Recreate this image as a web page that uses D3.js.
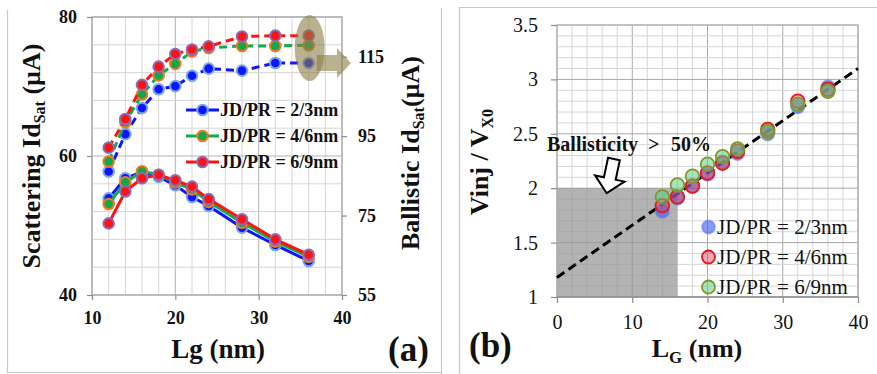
<!DOCTYPE html>
<html><head><meta charset="utf-8">
<script src="https://cdn.jsdelivr.net/npm/d3@7"></script>
<style>
body{margin:0;background:#fff}
svg{display:block}
svg text{font-family:"Liberation Serif","Times New Roman",Times,serif !important}
</style></head><body>
<svg id="chart" width="877" height="374"></svg>
<script>
// ---- Panel (a): saturation current vs gate length ----
const lg = [12, 14, 16, 18, 20, 22, 24, 28, 32, 36];
const seriesNames = ["JD/PR = 2/3nm", "JD/PR = 4/6nm", "JD/PR = 6/9nm"];
// ballistic Id,sat (right axis, µA) — dashed curves
const ballistic23 = [86.1, 95.5, 102.1, 106.8, 107.6, 110.2, 112.0, 111.5, 113.4, 113.4];
const ballistic46 = [88.6, 98.5, 105.5, 110.3, 113.2, 116.3, 117.2, 117.7, 117.7, 117.9];
const ballistic69 = [92.1, 99.3, 107.9, 112.5, 115.7, 116.8, 117.6, 120.1, 120.3, 120.3];
// scattering Id,sat (left axis, µA) — solid curves
const scatter23 = [53.9, 56.8, 57.7, 57.0, 55.8, 54.1, 52.8, 49.7, 47.2, 44.9];
const scatter46 = [53.1, 56.2, 57.8, 57.3, 56.2, 55.2, 53.4, 50.4, 47.7, 45.5];
const scatter69 = [50.3, 54.9, 56.8, 57.3, 56.5, 55.6, 53.8, 50.9, 48.0, 45.8];
const ticksLgA = [10, 20, 30, 40];
const ticksLeftA = [40, 60, 80];
const ticksRightA = [55, 75, 95, 115];

// ---- Panel (b): injection velocity ratio vs gate length ----
const lgB = [14, 16, 18, 20, 22, 24, 28, 32, 36];
const vinj23 = [1.79, 1.91, 2.02, 2.13, 2.24, 2.32, 2.50, 2.75, 2.93];
const vinj46 = [1.84, 1.92, 2.02, 2.14, 2.23, 2.34, 2.54, 2.80, 2.91];
const vinj69 = [1.92, 2.03, 2.11, 2.22, 2.29, 2.36, 2.52, 2.77, 2.89];
const fitLine = [[0, 1.18], [40, 3.10]];
const ballisticRegion = {lgMax: 16, vMin: 1, vMax: 2};
const ticksLgB = [0, 10, 20, 30, 40];
const ticksVB = [1, 1.5, 2, 2.5, 3, 3.5];

const svg = d3.select("#chart");

// frames around the two panels
const frame = svg.append("g").attr("stroke", "#c8c8c8").attr("stroke-width", 1.2).attr("fill", "none");
frame.append("path").attr("d", "M7.5,10 V372.5 H441.5 M441.5,8 V374 M459.5,374 V7.5 H877");

// ================= Panel (a) =================
const xA = d3.scaleLinear([10, 40], [92, 342]);
const yL = d3.scaleLinear([40, 80], [295, 17]);
const yR = d3.scaleLinear([55, 125], [295, 17]);

const gA = svg.append("g");
// grid
const gridA = gA.append("g");
d3.range(10, 41, 2).forEach(v => {
  gridA.append("line").attr("x1", xA(v)).attr("x2", xA(v)).attr("y1", yL(40)).attr("y2", yL(80))
    .attr("stroke", v % 10 === 0 ? "#b4b4b4" : "#d6d6d6").attr("stroke-width", 1);
});
d3.range(40, 81, 4).forEach(v => {
  gridA.append("line").attr("x1", xA(10)).attr("x2", xA(40)).attr("y1", yL(v)).attr("y2", yL(v))
    .attr("stroke", v % 20 === 0 ? "#b4b4b4" : "#d6d6d6").attr("stroke-width", 1);
});
gA.append("rect").attr("x", xA(10)).attr("y", yL(80)).attr("width", xA(40) - xA(10)).attr("height", yL(40) - yL(80))
  .attr("fill", "none").attr("stroke", "#a8a8a8").attr("stroke-width", 1.2);

function styleAxis(g, size, weight) {
  g.attr("font-family", null);
  g.select(".domain").remove();
  g.selectAll(".tick line").attr("stroke", "#8c8c8c").attr("stroke-width", 1.2);
  g.selectAll(".tick text").attr("font-size", size).attr("font-weight", weight).attr("fill", "#111");
}
gA.append("g").attr("transform", `translate(0,${yL(40)})`)
  .call(d3.axisBottom(xA).tickValues(ticksLgA).tickSize(5).tickPadding(11).tickFormat(d3.format("d")))
  .call(g => styleAxis(g, 18, "bold"));
gA.append("g").attr("transform", `translate(${xA(10)},0)`)
  .call(d3.axisLeft(yL).tickValues(ticksLeftA).tickSize(5).tickPadding(10).tickFormat(d3.format("d")))
  .call(g => styleAxis(g, 18, "bold"));
gA.append("g").attr("transform", `translate(${xA(40)},0)`)
  .call(d3.axisRight(yR).tickValues(ticksRightA).tickSize(5).tickPadding(11).tickFormat(d3.format("d")))
  .call(g => styleAxis(g, 18, "bold"));

const styleA = [
  {line: "#0b16ff", fill: "#0b16ff", stroke: "#7aa6e2"},
  {line: "#11ad4c", fill: "#12a84a", stroke: "#f07a22"},
  {line: "#ff1212", fill: "#ff1212", stroke: "#8a6cb8"}
];
const ballisticSets = [ballistic23, ballistic46, ballistic69];
const scatterSets = [scatter23, scatter46, scatter69];

function drawSeries(g, values, yScale, st, dashed) {
  const pts = lg.map((x, i) => [xA(x), yScale(values[i])]);
  g.append("path").attr("d", d3.line()(pts)).attr("fill", "none")
    .attr("stroke", st.line).attr("stroke-width", 3)
    .attr("stroke-dasharray", dashed ? "8,5" : null);
  g.selectAll(null).data(pts).join("circle")
    .attr("cx", d => d[0]).attr("cy", d => d[1]).attr("r", 5.3)
    .attr("fill", st.fill).attr("stroke", st.stroke).attr("stroke-width", 2);
}
const marksA = gA.append("g");
[0, 1, 2].forEach(i => drawSeries(marksA, scatterSets[i], yL, styleA[i], false));
[0, 1, 2].forEach(i => drawSeries(marksA, ballisticSets[i], yR, styleA[i], true));

// highlight of the longest-gate ballistic points and arrow towards the right axis
const lastIdx = lg.length - 1;
const hiY = d3.mean(ballisticSets, s => yR(s[lastIdx]));
const hiX = xA(lg[lastIdx]) + 1;
const khaki = "rgb(140,125,70)";
gA.append("ellipse").attr("cx", hiX).attr("cy", hiY).attr("rx", 15).attr("ry", 33)
  .attr("fill", khaki).attr("opacity", 0.6);
const ay = hiY + 15, ax0 = hiX + 7, ax1 = xA(40) - 5, tip = xA(40) + 9;
gA.append("path")
  .attr("d", `M${ax0},${ay - 8} H${ax1} V${ay - 15} L${tip},${ay} L${ax1},${ay + 15} V${ay + 8} H${ax0} Z`)
  .attr("fill", khaki).attr("opacity", 0.6);

// legend (a)
const legA = gA.append("g");
seriesNames.forEach((name, i) => {
  const y = 110 + i * 26;
  legA.append("line").attr("x1", 186).attr("x2", 219).attr("y1", y).attr("y2", y)
    .attr("stroke", styleA[i].line).attr("stroke-width", 3);
  legA.append("circle").attr("cx", 202.5).attr("cy", y).attr("r", 5.3)
    .attr("fill", styleA[i].fill).attr("stroke", styleA[i].stroke).attr("stroke-width", 2);
  legA.append("text").attr("x", 220).attr("y", y + 6)
    .attr("font-size", 18).attr("font-weight", "bold").attr("fill", "#111").text(name);
});

// axis titles (a)
const t1 = gA.append("text").attr("transform", "translate(40,156) rotate(-90)").attr("text-anchor", "middle")
  .attr("font-size", 26).attr("font-weight", "bold").attr("fill", "#111");
t1.append("tspan").text("Scattering Id");
t1.append("tspan").attr("font-size", 16).attr("dy", 5).text("Sat");
t1.append("tspan").attr("dy", -5).text(" (µA)");
const t2 = gA.append("text").attr("transform", "translate(419,153) rotate(-90)").attr("text-anchor", "middle")
  .attr("font-size", 26).attr("font-weight", "bold").attr("fill", "#111");
t2.append("tspan").text("Ballistic Id");
t2.append("tspan").attr("font-size", 16).attr("dy", 5).text("Sat");
t2.append("tspan").attr("dy", -5).text("(µA)");
gA.append("text").attr("x", 218).attr("y", 358).attr("text-anchor", "middle")
  .attr("font-size", 27).attr("font-weight", "bold").attr("fill", "#111").text("Lg (nm)");
gA.append("text").attr("x", 388).attr("y", 361)
  .attr("font-size", 35).attr("font-weight", "bold").attr("fill", "#111").text("(a)");

// ================= Panel (b) =================
const xB = d3.scaleLinear([0, 40], [557, 858]);
const yB = d3.scaleLinear([1, 3.5], [297, 25]);
const gB = svg.append("g");
const gridB = gB.append("g");
d3.range(0, 41, 2).forEach(v => {
  gridB.append("line").attr("x1", xB(v)).attr("x2", xB(v)).attr("y1", yB(1)).attr("y2", yB(3.5))
    .attr("stroke", v % 10 === 0 ? "#a8a8a8" : "#d6d6d6").attr("stroke-width", 1);
});
d3.range(0, 26).forEach(k => {
  const v = 1 + k * 0.1;
  gridB.append("line").attr("x1", xB(0)).attr("x2", xB(40)).attr("y1", yB(v)).attr("y2", yB(v))
    .attr("stroke", k % 5 === 0 ? "#a8a8a8" : "#d6d6d6").attr("stroke-width", 1);
});
gB.append("rect").attr("x", xB(0)).attr("y", yB(ballisticRegion.vMax))
  .attr("width", xB(ballisticRegion.lgMax) - xB(0)).attr("height", yB(ballisticRegion.vMin) - yB(ballisticRegion.vMax))
  .attr("fill", "rgb(150,150,150)").attr("opacity", 0.72);
gB.append("path").attr("d", `M${xB(0)},${yB(1)} V${yB(3.5)} H${xB(40)} V${yB(1)}`)
  .attr("fill", "none").attr("stroke", "#b0b0b0").attr("stroke-width", 1.2);
gB.append("line").attr("x1", xB(0)).attr("x2", xB(40)).attr("y1", yB(1)).attr("y2", yB(1))
  .attr("stroke", "#8c8c8c").attr("stroke-width", 1.5);

gB.append("g").attr("transform", `translate(0,${yB(1)})`)
  .call(d3.axisBottom(xB).tickValues(ticksLgB).tickSize(6).tickPadding(12).tickFormat(d3.format("d")))
  .call(g => styleAxis(g, 20, "normal"));
gB.append("g").attr("transform", `translate(${xB(0)},0)`)
  .call(d3.axisLeft(yB).tickValues(ticksVB).tickSize(6).tickPadding(13).tickFormat(d3.format("")))
  .call(g => styleAxis(g, 20, "normal"));

// linear trend
gB.append("path").attr("d", d3.line()(fitLine.map(d => [xB(d[0]), yB(d[1])])))
  .attr("fill", "none").attr("stroke", "#000").attr("stroke-width", 3).attr("stroke-dasharray", "9,5");

const styleB = [
  {fill: "rgba(70,90,235,0.62)", stroke: "rgba(90,120,245,0.55)"},
  {fill: "rgba(225,60,95,0.45)", stroke: "#e51818"},
  {fill: "rgba(95,205,125,0.55)", stroke: "#7d9a2c"}
];
const vinjSets = [vinj23, vinj46, vinj69];
vinjSets.forEach((vals, i) => {
  gB.append("g").selectAll("circle").data(lgB).join("circle")
    .attr("cx", d => xB(d)).attr("cy", (d, j) => yB(vals[j])).attr("r", 6.8)
    .attr("fill", styleB[i].fill).attr("stroke", styleB[i].stroke).attr("stroke-width", 1.8);
});

// legend (b)
seriesNames.forEach((name, i) => {
  const y = 227 + i * 30;
  gB.append("circle").attr("cx", 708.5).attr("cy", y).attr("r", 6.5)
    .attr("fill", styleB[i].fill).attr("stroke", styleB[i].stroke).attr("stroke-width", 1.8);
  gB.append("text").attr("x", 717).attr("y", y + 7)
    .attr("font-size", 21).attr("fill", "#111").text(name);
});

// annotation: ballistic region label and hollow arrow
const note = gB.append("text").attr("y", 151).attr("font-size", 20)
  .attr("font-weight", "bold").attr("fill", "#111");
note.append("tspan").attr("x", 547).text("Ballisticity");
note.append("tspan").attr("x", 648).text(">");
note.append("tspan").attr("x", 671).text("50%");
const tipX = xB(6.6), tipY = yB(2) + 5;
gB.append("path")
  .attr("d", "M-6,-35 H6 V-15 H15 L0,0 L-15,-15 H-6 Z")
  .attr("transform", `translate(${tipX},${tipY}) rotate(12)`)
  .attr("fill", "#fff").attr("stroke", "#000").attr("stroke-width", 2).attr("stroke-linejoin", "miter");

// axis titles (b)
const t3 = gB.append("text").attr("transform", "translate(488,162) rotate(-90)").attr("text-anchor", "middle")
  .attr("font-size", 26).attr("font-weight", "bold").attr("fill", "#111");
t3.append("tspan").text("Vinj / V");
t3.append("tspan").attr("font-size", 16).attr("dy", 5).text("X0");
const t4 = gB.append("text").attr("x", 697).attr("y", 357).attr("text-anchor", "middle")
  .attr("font-size", 26).attr("font-weight", "bold").attr("fill", "#111");
t4.append("tspan").text("L");
t4.append("tspan").attr("font-size", 17).attr("dy", 6).text("G");
t4.append("tspan").attr("dy", -6).text(" (nm)");
gB.append("text").attr("x", 469).attr("y", 357)
  .attr("font-size", 35).attr("font-weight", "bold").attr("fill", "#111").text("(b)");
</script>
</body></html>
